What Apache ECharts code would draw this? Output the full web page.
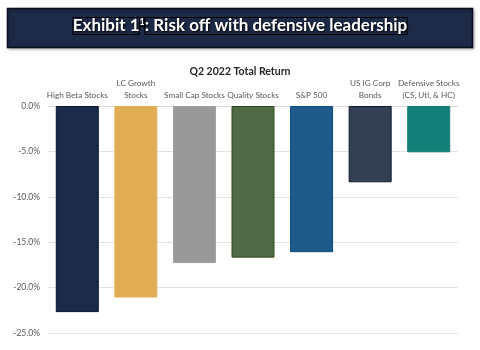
<!DOCTYPE html>
<html>
<head>
<meta charset="utf-8">
<script src="https://cdn.jsdelivr.net/npm/echarts@6/dist/echarts.min.js"></script>
<style>html,body{margin:0;padding:0;background:#fff;}#c{width:480px;height:350px;}</style>
</head>
<body>
<div id="c"></div>
<script>
var categories = ['High Beta Stocks', 'LC Growth\nStocks', 'Small Cap Stocks', 'Quality Stocks', 'S&P 500', 'US IG Corp\nBonds', 'Defensive Stocks\n(CS, Utl, & HC)'];
var returns = [-22.7, -21.1, -17.3, -16.7, -16.1, -8.4, -5.1];
var yTicks = [0, -5, -10, -15, -20, -25];
var fills = ['#1b2a48', '#e0ad55', '#999999', '#4f6a44', '#1e5b8a', '#344154', '#13807a'];
var borders = ['#0b1230', '#e3b25c', '#a0a0a0', '#2b4a1c', '#0c4a80', '#0f172c', '#0f7d75'];

var chart = echarts.init(document.getElementById('c'));
var font = 'Lato';
chart.setOption({
  animation: false,
  backgroundColor: '#ffffff',
  title: {
    text: 'Q2 2022 Total Return',
    left: 'center',
    top: 61,
    textStyle: { fontFamily: font, fontSize: 10.5, fontWeight: 'bold', color: '#262626' }
  },
  graphic: [
    { type: 'rect', shape: { x: 7.5, y: 8.5, width: 465, height: 39 },
      style: { fill: '#1c2a48', stroke: '#0a0f1e', lineWidth: 1.5,
               shadowBlur: 3, shadowColor: 'rgba(0,0,0,0.35)', shadowOffsetX: 1, shadowOffsetY: 1 } },
    { type: 'text', left: 'center', top: 17,
      style: {
        text: '{m|Exhibit 1}{s|1}{m|: Risk off with defensive leadership}',
        rich: {
          m: { fontFamily: font, fontSize: 17, fontWeight: 'bold', fill: '#ffffff',
               textBorderColor: '#000', textBorderWidth: 1,
               textShadowColor: '#000', textShadowBlur: 2, textShadowOffsetX: 1, textShadowOffsetY: 1 },
          s: { fontFamily: font, fontSize: 9, fontWeight: 'bold', fill: '#ffffff', verticalAlign: 'top',
               textBorderColor: '#000', textBorderWidth: 1,
               textShadowColor: '#000', textShadowBlur: 2, textShadowOffsetX: 1, textShadowOffsetY: 1 }
        }
      } }
  ],
  grid: { left: 48, right: 22, top: 106, bottom: 17 },
  xAxis: {
    type: 'category',
    position: 'top',
    data: categories,
    axisLine: { show: true, lineStyle: { color: '#d9d9d9', width: 1 } },
    axisTick: { show: false },
    axisLabel: { interval: 0, color: '#595959', fontFamily: font, fontSize: 8.2, lineHeight: 12, margin: 5 }
  },
  yAxis: {
    type: 'value',
    min: -25, max: 0, interval: 5,
    axisLine: { show: false },
    axisTick: { show: false },
    splitLine: { lineStyle: { color: '#e3e3e3', width: 1 } },
    axisLabel: {
      color: '#595959', fontFamily: font, fontSize: 8.5, margin: 8,
      formatter: function (v) { return yTicks.indexOf(v) >= 0 ? v.toFixed(1) + '%' : ''; }
    }
  },
  series: [{
    type: 'bar',
    barWidth: 43,
    data: returns.map(function (v, i) {
      return { value: v, itemStyle: { color: fills[i], borderColor: borders[i], borderWidth: 1 } };
    })
  }]
});
</script>
</body>
</html>
